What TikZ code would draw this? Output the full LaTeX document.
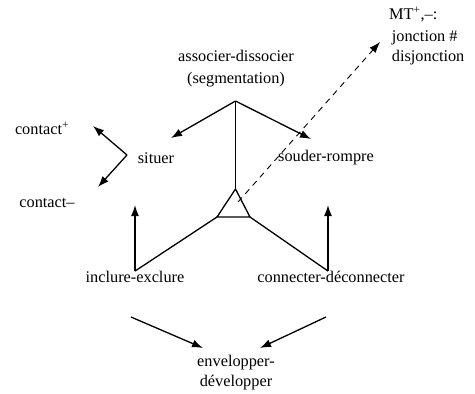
\documentclass[tikz,border=0pt]{standalone}
\usepackage{fontspec}
\setmainfont{Liberation Serif}
\usepackage{tikz}
\usetikzlibrary{arrows.meta}
\usetikzlibrary{calc}
\tikzstyle{term} = [inner sep=0pt, align=center,
	font=\fontsize{16.3}{20}\selectfont]
\tikzstyle{arrow} =[-{Latex[length=11pt, width=8pt]}, line width=1.3pt]
\tikzstyle{plain} =[line width=1.3pt]
\newcommand{\pl}{\textsuperscript{+}}

\begin{document}
\begin{tikzpicture}[x=1pt, y=-1pt]
			\useasboundingbox (0,0) rectangle (475,394);
			
			\node (asso) [term] at (236,69) {associer-dissocier\\[2pt](segmentation)};
			\node (sit) [term] at (156,158) {situer};
			\node (soud) [term] at (326,158) {souder-rompre};
			\node (cplus) [term] at (42,128) {contact\pl};
			\node (cmoins) [term] at (47,203) {contact--};
			\node (incl) [term] at (135,277) {inclure-exclure};
			\node (conn) [term] at (331,277) {connecter-déconnecter};
			\node (env) [term] at (236,373) {envelopper-\\développer};
			\node (mt) [term, anchor=north west, align=left] at (389,7) {MT\pl,--:\\[2pt]\,jonction \#\\\,disjonction};
			
			%triangle
			\coordinate (tA) at (235.5,189);
			\coordinate (tL) at (217,217);
			\coordinate (tR) at (250,217);
			\draw [plain, line join=miter] (tA) -- (tL) -- (tR) -- cycle;
			
			%branches du haut
			\coordinate (jn) at (235.5,101);
			\coordinate (tipSit) at (171,138);
			\coordinate (tipSoud) at (311,139);
			\draw [plain] (jn) -- (tA);
			\draw [arrow] (jn) -- (tipSit);
			\draw [arrow] (jn) -- (tipSoud);
			
			\coordinate (sitL) at (127,155);
			\coordinate (tipPlus) at (93,126);
			\coordinate (tipMoins) at (98,187);
			\draw [arrow] (sitL) -- (tipPlus);
			\draw [arrow] (sitL) -- (tipMoins);
			
			%pieds
			\draw [plain] (tL) -- (incl.north);
			\draw [plain] (tR) -- (conn.north -| 328,0);
			\draw [arrow] (incl.north) -- ++(0,-66);
			\draw [arrow] (conn.north -| 328,0) -- ++(0,-66);
			
			\coordinate (inclS) at (131,317);
			\coordinate (connS) at (326,317);
			\draw [arrow] (inclS) -- (203,348);
			\draw [arrow] (connS) -- (260,348);
			
			%MT
			\coordinate (mtTip) at (380,42);
			\draw [-{Latex[length=11pt, width=8pt]}, line width=0.9pt, dash pattern=on 6pt off 5pt] (238,202) -- (mtTip);
		\end{tikzpicture}
\end{document}
